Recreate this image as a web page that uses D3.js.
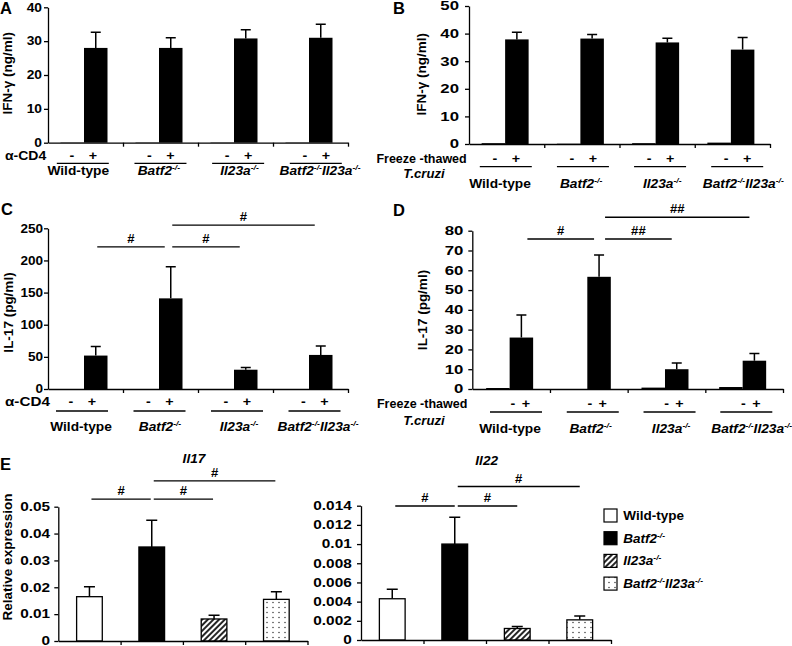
<!DOCTYPE html>
<html><head><meta charset="utf-8">
<script src="https://cdn.jsdelivr.net/npm/d3@7"></script>
<style>
body{margin:0;background:#fff;}
svg{display:block;font-family:"Liberation Sans",Arial,sans-serif;font-weight:bold;}
</style></head><body>
<svg id="fig" width="792" height="646"></svg>
<script>
// ---------------- data ----------------
const genotypes = ["Wild-type", "Batf2-/-", "Il23a-/-", "Batf2-/-Il23a-/-"];
const stimulation = ["-", "+"];

// A: IFN-gamma, anti-CD4 (ng/ml)
const ifngCd4Minus = [0.1, 0.1, 0.1, 0.1];
const ifngCd4Plus  = [28.0, 28.0, 30.8, 31.0];
const ifngCd4Err   = [4.6, 3.0, 2.6, 4.0];
// B: IFN-gamma, freeze-thawed T. cruzi (ng/ml)
const ifngTcMinus = [0.3, 0.1, 0.3, 0.5];
const ifngTcPlus  = [37.9, 38.2, 36.8, 34.2];
const ifngTcErr   = [2.6, 1.5, 1.5, 4.4];
// C: IL-17, anti-CD4 (pg/ml)
const il17Cd4Minus = [0, 0, 0, 0];
const il17Cd4Plus  = [52, 141, 30, 53];
const il17Cd4Err   = [14, 49, 3.5, 14];
// D: IL-17, freeze-thawed T. cruzi (pg/ml)
const il17TcMinus = [0.5, 0, 0.7, 1.0];
const il17TcPlus  = [26, 56.7, 10, 14.3];
const il17TcErr   = [11.4, 11, 3.2, 3.7];
// E: relative expression
const il17Expr    = [0.0165, 0.035, 0.0082, 0.0155];
const il17ExprErr = [0.0037, 0.0100, 0.0014, 0.0028];
const il22Expr    = [0.0043, 0.0100, 0.0012, 0.0021];
const il22ExprErr = [0.0010, 0.0028, 0.0002, 0.0004];

const ticksA = [0, 10, 20, 30, 40];
const ticksB = [0, 10, 20, 30, 40, 50];
const ticksC = [0, 50, 100, 150, 200, 250];
const ticksD = [0, 10, 20, 30, 40, 50, 60, 70, 80];
const ticksE17 = [0, 0.01, 0.02, 0.03, 0.04, 0.05];
const ticksE22 = [0, 0.002, 0.004, 0.006, 0.008, 0.01, 0.012, 0.014];

// significance brackets (group indices, height in data units)
const sigC   = [{from:0,to:1,at:221,label:"#"},{from:1,to:2,at:221,label:"#"},{from:1,to:3,at:255,label:"#"}];
const sigD   = [{from:0,to:1,at:75.8,label:"#"},{from:1,to:2,at:75.8,label:"##"},{from:1,to:3,at:86.8,label:"##"}];
const sigE17 = [{from:0,to:1,at:0.0528,label:"#"},{from:1,to:2,at:0.0528,label:"#"},{from:1,to:3,at:0.0596,label:"#"}];
const sigE22 = [{from:0,to:1,at:0.01397,label:"#"},{from:1,to:2,at:0.01397,label:"#"},{from:1,to:3,at:0.0160,label:"#"}];

// ---------------- drawing ----------------
const svg = d3.select("#fig");
const defs = svg.append("defs");
const hatch = defs.append("pattern").attr("id","hatch").attr("patternUnits","userSpaceOnUse")
  .attr("width",4).attr("height",4).attr("patternTransform","rotate(45)");
hatch.append("rect").attr("width",4).attr("height",4).attr("fill","#fff");
hatch.append("line").attr("x1",1).attr("y1",-1).attr("x2",1).attr("y2",5).attr("stroke","#000").attr("stroke-width",1.7);
const dots = defs.append("pattern").attr("id","dots").attr("patternUnits","userSpaceOnUse").attr("width",6).attr("height",5);
dots.append("rect").attr("width",6).attr("height",5).attr("fill","#fff");
dots.append("circle").attr("cx",3).attr("cy",2.5).attr("r",0.7).attr("fill","#222");
const fills = ["#fff", "#000", "url(#hatch)", "url(#dots)"];

function genoSpans(t, name, size) {
  if (name.indexOf("-/-") < 0) { t.text(name); return; }
  t.attr("font-style", "italic");
  const parts = name.split("-/-");
  let raised = false;
  parts.forEach((p, i) => {
    if (p) { t.append("tspan").attr("dy", raised ? size*0.38 : 0).text(p); raised = false; }
    if (i < parts.length - 1) {
      t.append("tspan").attr("font-size", size*0.62).attr("dy", -size*0.38).text("-/-"); raised = true;
    }
  });
}
function addText(g, x, y, str, o = {}) {
  const size = o.size || 13, sx = o.sx || 1;
  const t = g.append("text")
    .attr("transform", o.rotate ? `translate(${x},${y}) rotate(-90)` : `translate(${x},${y}) scale(${sx},1)`)
    .attr("font-size", size).attr("text-anchor", o.anchor || "start").attr("fill", "#000");
  if (o.italic) t.attr("font-style", "italic");
  if (o.geno) genoSpans(t, str, size); else t.text(str);
  return t;
}
function styleAxis(ag, size, sx) {
  ag.attr("font-family", null).attr("font-size", null);
  ag.selectAll("path.domain, .tick line").attr("stroke", "#000").attr("stroke-width", 1.3);
  ag.selectAll(".tick text").each(function() {
    const t = d3.select(this);
    const x = +t.attr("x");
    t.attr("x", x / sx).attr("transform", `scale(${sx},1)`).attr("font-size", size).attr("fill", "#000");
  });
}
function sigMarks(g, sig, cx, y, ins) {
  sig.forEach(s => {
    const x1 = cx(s.from) + ins[0], x2 = cx(s.to) + ins[1], yy = y(s.at);
    g.append("line").attr("x1", x1).attr("x2", x2).attr("y1", yy).attr("y2", yy)
      .attr("stroke", "#000").attr("stroke-width", 1.3);
    addText(g, (x1 + x2) / 2, yy - 3.8, s.label, {anchor: "middle", size: 12.5, sx: 1.05});
  });
}

function stimPanel(L, minus, plus, err, ticks, sig) {
  const g = svg.append("g");
  const xg = d3.scaleBand().domain(genotypes).range([L.x0, L.x1]);
  const xs = d3.scaleBand().domain(stimulation).range([-25, 22]);
  const y = d3.scaleLinear().domain([0, L.max]).range([L.yb, L.yt]);
  const mid = gn => xg(gn) + xg.bandwidth() / 2;
  const bars = [];
  genotypes.forEach((gn, i) => {
    bars.push({gn, s: "-", v: minus[i]});
    bars.push({gn, s: "+", v: plus[i], e: err[i]});
  });
  g.selectAll("rect.bar").data(bars).join("rect").attr("class", "bar")
    .attr("x", d => mid(d.gn) + xs(d.s)).attr("width", xs.bandwidth())
    .attr("y", d => y(d.v)).attr("height", d => y(0) - y(d.v)).attr("fill", "#000");
  g.selectAll("path.err").data(bars.filter(d => d.e != null)).join("path").attr("class", "err")
    .attr("d", d => {
      const c = mid(d.gn) + xs(d.s) + xs.bandwidth() / 2, t = y(d.v + d.e);
      return `M${c},${y(d.v)}V${t}M${c - 5},${t}H${c + 5}`;
    }).attr("stroke", "#000").attr("stroke-width", 1.5).attr("fill", "none");

  const ay = g.append("g").attr("transform", `translate(${L.x0},0)`)
    .call(d3.axisLeft(y).tickValues(ticks).tickSize(4).tickSizeOuter(0).tickPadding(L.pad).tickFormat(d3.format("")));
  styleAxis(ay, 12, L.tsx);
  const xl = d3.scaleLinear().domain([0, genotypes.length]).range([L.x0, L.x1]);
  const ax = g.append("g").attr("transform", `translate(0,${L.yb})`)
    .call(d3.axisBottom(xl).tickValues(d3.range(1, genotypes.length + 1)).tickSize(4).tickSizeOuter(0).tickFormat(""));
  styleAxis(ax, 12, 1);

  const ul = d3.scalePoint().domain(genotypes).range(L.ulRange);
  const lab = d3.scalePoint().domain(genotypes).range(L.labRange);
  genotypes.forEach(gn => {
    const u = ul(gn);
    addText(g, u + L.minusOff, L.stimY, stimulation[0], {anchor: "middle", size: 13, sx: 1.1});
    addText(g, u + L.plusOff, L.stimY, stimulation[1], {anchor: "middle", size: 13, sx: 1.1});
    g.append("line").attr("x1", u - 26).attr("x2", u + 26).attr("y1", L.ulY).attr("y2", L.ulY)
      .attr("stroke", "#000").attr("stroke-width", 1.3);
    addText(g, lab(gn), L.labY, gn, {anchor: "middle", size: 12.5, sx: 1.1, geno: true});
  });
  L.rowLabels.forEach(r => addText(g, r.x, r.y, r.text, {anchor: r.anchor, size: 12.5, sx: r.sx, italic: r.italic}));
  addText(g, L.ylx, L.yly, L.ylabel, {rotate: true, anchor: "middle", size: 13.5});
  addText(g, L.lx, L.ly, L.letter, {size: 16.5});
  if (sig) sigMarks(g, sig, i => mid(genotypes[i]) + xs("+") + xs.bandwidth() / 2, y, L.ins);
}

function exprPanel(L, vals, errs, ticks, sig) {
  const g = svg.append("g");
  const xb = d3.scaleBand().domain(genotypes).range([L.x0, L.x1]).paddingInner(0.588).paddingOuter(0.294);
  const y = d3.scaleLinear().domain([0, L.max]).range([L.yb, L.yt]);
  const rows = genotypes.map((gn, i) => ({gn, v: vals[i], e: errs[i], f: fills[i]}));
  g.selectAll("path.err").data(rows).join("path").attr("class", "err")
    .attr("d", d => {
      const c = xb(d.gn) + xb.bandwidth() / 2, t = y(d.v + d.e);
      return `M${c},${y(d.v)}V${t}M${c - 5.5},${t}H${c + 5.5}`;
    }).attr("stroke", "#000").attr("stroke-width", 1.5).attr("fill", "none");
  g.selectAll("rect.bar").data(rows).join("rect").attr("class", "bar")
    .attr("x", d => xb(d.gn)).attr("width", xb.bandwidth())
    .attr("y", d => y(d.v)).attr("height", d => y(0) - y(d.v))
    .attr("fill", d => d.f).attr("stroke", "#000").attr("stroke-width", 1.3);
  const ay = g.append("g").attr("transform", `translate(${L.x0},0)`)
    .call(d3.axisLeft(y).tickValues(ticks).tickSize(4).tickSizeOuter(0).tickPadding(L.pad).tickFormat(d3.format("")));
  styleAxis(ay, 12, 1.28);
  const xl = d3.scaleLinear().domain([0, genotypes.length]).range([L.x0, L.x1]);
  const ax = g.append("g").attr("transform", `translate(0,${L.yb})`)
    .call(d3.axisBottom(xl).tickValues(d3.range(1, genotypes.length + 1)).tickSize(4).tickSizeOuter(0).tickFormat(""));
  styleAxis(ax, 12, 1);
  addText(g, L.tx, L.ty, L.title, {anchor: "middle", size: 13, sx: 1.05, italic: true});
  if (L.ylabel) addText(g, L.ylx, L.yly, L.ylabel, {rotate: true, anchor: "middle", size: 13.5});
  if (L.letter) addText(g, L.lx, L.ly, L.letter, {size: 16.5});
  sigMarks(g, sig, i => xb(genotypes[i]) + xb.bandwidth() / 2, y, L.ins);
}

// ---------------- layout ----------------
stimPanel({x0:48, x1:348, yb:142.7, yt:7.3, max:40, pad:2, tsx:1.15,
  ulRange:[82.8, 315.8], minusOff:-11, plusOff:10, stimY:159.5, ulY:163.3,
  labRange:[78.3, 320], labY:175,
  rowLabels:[{text:"α-CD4", x:5, y:159.5, anchor:"start", sx:1.12}],
  ylabel:"IFN-γ (ng/ml)", ylx:12, yly:73.3, letter:"A", lx:0, ly:13.5},
  ifngCd4Minus, ifngCd4Plus, ifngCd4Err, ticksA, null);

stimPanel({x0:469, x1:770, yb:144, yt:6, max:50, pad:6, tsx:1.4,
  ulRange:[505.8, 737.2], minusOff:-11, plusOff:10, stimY:163.3, ulY:166.7,
  labRange:[500, 743.3], labY:187.5,
  rowLabels:[{text:"Freeze -thawed", x:466.7, y:163.3, anchor:"end", sx:1},
             {text:"T.cruzi", x:424, y:178.3, anchor:"middle", sx:1.05, italic:true}],
  ylabel:"IFN-γ (ng/ml)", ylx:426, yly:74.2, letter:"B", lx:393, ly:13.5},
  ifngTcMinus, ifngTcPlus, ifngTcErr, ticksB, null);

stimPanel({x0:48, x1:348, yb:389, yt:228.3, max:250, pad:1, tsx:1.13,
  ulRange:[82, 314.5], minusOff:-11, plusOff:10, stimY:406, ulY:411,
  labRange:[81, 318], labY:431,
  rowLabels:[{text:"α-CD4", x:5, y:406, anchor:"start", sx:1.22}],
  ylabel:"IL-17 (pg/ml)", ylx:12.5, yly:312.5, letter:"C", lx:1, ly:215, ins:[1.5,-6]},
  il17Cd4Minus, il17Cd4Plus, il17Cd4Err, ticksC, sigC);

stimPanel({x0:472.3, x1:783, yb:389, yt:230.7, max:80, pad:5, tsx:1.4,
  ulRange:[516, 746.3], minusOff:-3, plusOff:10, stimY:408, ulY:412,
  labRange:[510, 751.7], labY:433,
  rowLabels:[{text:"Freeze -thawed", x:467.3, y:408, anchor:"end", sx:1},
             {text:"T.cruzi", x:424, y:424.5, anchor:"middle", sx:1.05, italic:true}],
  ylabel:"IL-17 (pg/ml)", ylx:427, yly:310, letter:"D", lx:393, ly:216, ins:[6,-5]},
  il17TcMinus, il17TcPlus, il17TcErr, ticksD, sigD);

exprPanel({x0:58.3, x1:307.5, yb:641, yt:506.7, max:0.05, pad:4.3,
  title:"Il17", tx:194, ty:463, ylabel:"Relative expression", ylx:11.5, yly:557,
  letter:"E", lx:0, ly:470, ins:[2,-1]}, il17Expr, il17ExprErr, ticksE17, sigE17);

exprPanel({x0:361, x1:611, yb:640, yt:505.7, max:0.014, pad:5.3,
  title:"Il22", tx:486.7, ty:464.5, ins:[3,0]}, il22Expr, il22ExprErr, ticksE22, sigE22);

// legend
const lg = svg.append("g");
genotypes.forEach((gn, i) => {
  const yy = 509 + i * 22.7;
  lg.append("rect").attr("x", 604).attr("y", yy).attr("width", 13).attr("height", 13)
    .attr("fill", fills[i]).attr("stroke", "#000").attr("stroke-width", 1.2);
  addText(lg, 623.3, yy + 11, gn, {size: 13, sx: 1.04, geno: true});
});
</script>
</body></html>
